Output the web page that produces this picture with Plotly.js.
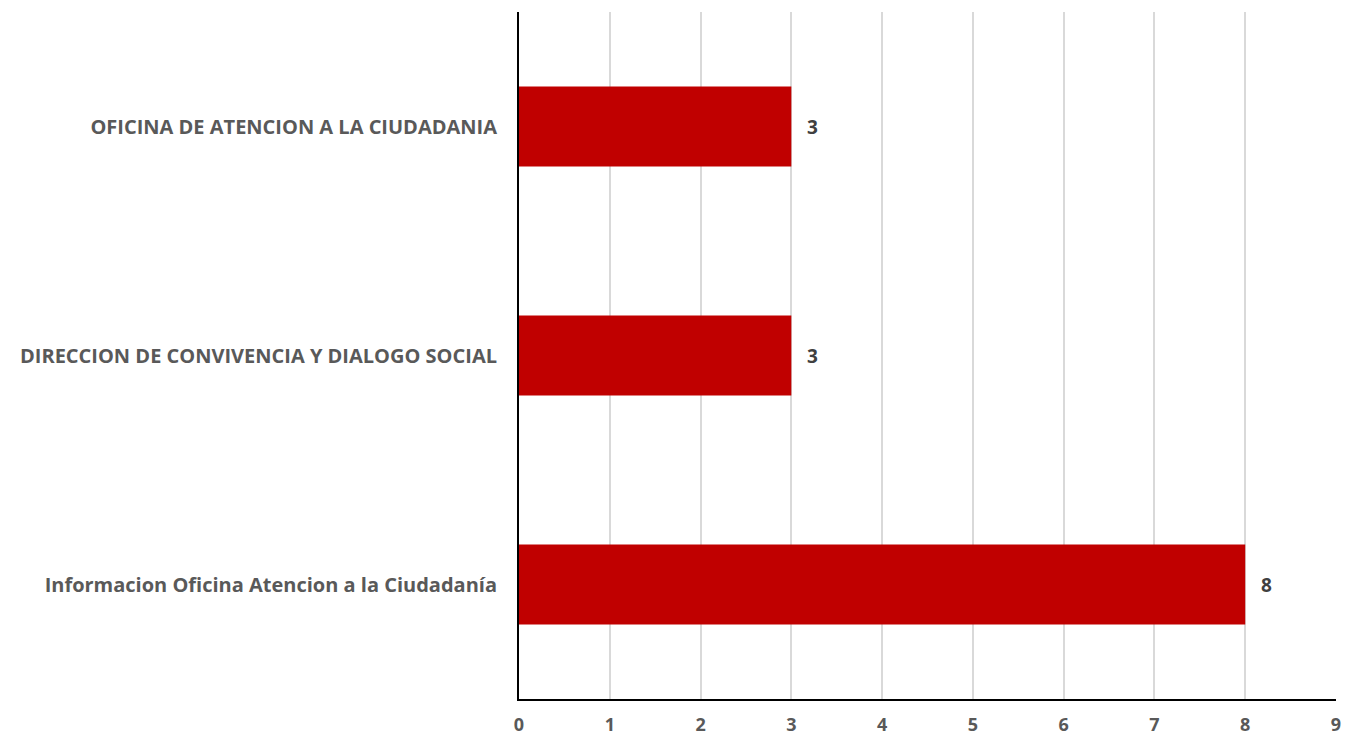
<!DOCTYPE html>
<html>
<head>
<meta charset="utf-8">
<script src="https://cdn.plot.ly/plotly-3.0.1.min.js"></script>
<style>html,body{margin:0;padding:0;background:#fff;}#chart{width:1346px;height:740px;}</style>
</head>
<body>
<div id="chart"></div>
<script>
const categories = [
  "Informacion Oficina Atencion a la Ciudadanía",
  "DIRECCION DE CONVIVENCIA Y DIALOGO SOCIAL",
  "OFICINA DE ATENCION A LA CIUDADANIA"
];
const values = [8, 3, 3];
const xTicks = [0,1,2,3,4,5,6,7,8,9];

const fontFam = "'Open Sans', 'Liberation Sans', sans-serif";
const grey = "#595959";

const trace = {
  type: "bar",
  orientation: "h",
  y: categories,
  x: values,
  marker: {color: "#C00000"},
  width: 0.35,
  hoverinfo: "none"
};

const annotations = values.map((v, i) => ({
  x: v, y: categories[i], xref: "x", yref: "y",
  text: "<b>" + v + "</b>", showarrow: false,
  xanchor: "left", xshift: 14,
  font: {family: fontFam, size: 19, color: "#404040"}
}));

const layout = {
  width: 1346, height: 740,
  margin: {l: 519, r: 10, t: 12, b: 41},
  paper_bgcolor: "#fff", plot_bgcolor: "#fff",
  showlegend: false,
  bargap: 0.65,
  xaxis: {
    range: [0, 9], tickvals: xTicks, ticktext: xTicks.map(t => "<b>" + t + "</b>"),
    showgrid: true, gridcolor: "#d9d9d9", gridwidth: 2,
    zeroline: false, showline: true, linecolor: "#000", linewidth: 2,
    ticks: "", ticklabelstandoff: 8,
    tickfont: {family: fontFam, size: 18, color: grey},
    fixedrange: true
  },
  yaxis: {
    type: "category",
    showgrid: false, zeroline: false,
    showline: true, linecolor: "#000", linewidth: 2,
    ticks: "", ticklabelstandoff: 16,
    tickvals: categories, ticktext: categories.map(c => "<b>" + c + "</b>"),
    tickfont: {family: fontFam, size: 20, color: grey},
    fixedrange: true
  },
  annotations: annotations
};

Plotly.newPlot("chart", [trace], layout, {displayModeBar: false, staticPlot: true});
</script>
</body>
</html>
